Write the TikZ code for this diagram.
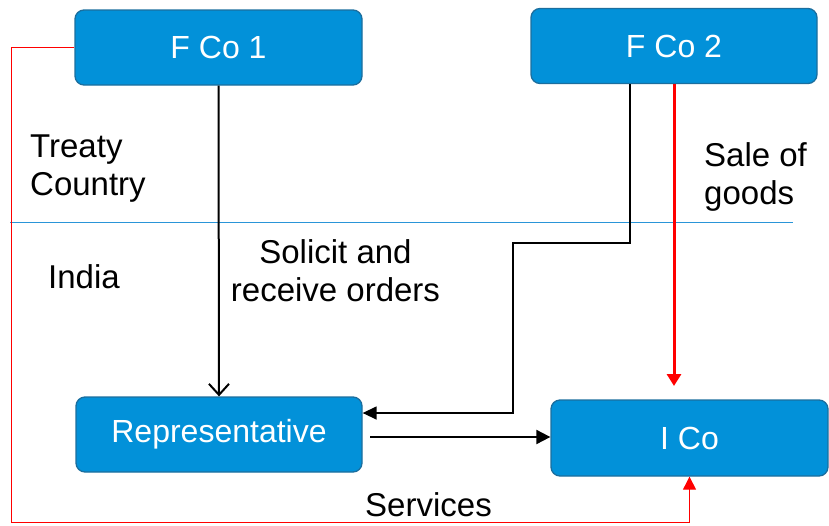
\documentclass[tikz,border=0pt]{standalone}
\usepackage{fontspec}
\setmainfont{Liberation Sans}
\usetikzlibrary{arrows.meta,calc}
\definecolor{boxblue}{HTML}{0291D9}
\definecolor{boxedge}{HTML}{1B6E9E}
\definecolor{lineblue}{HTML}{2A95D8}
\definecolor{redline}{HTML}{FF0000}
\tikzset{
  box/.style={draw=boxedge, line width=1.3pt, fill=boxblue, rounded corners=9pt,
    text=white, font=\fontsize{32}{36}\selectfont, inner sep=0pt, anchor=center},
  lbl/.style={text=black, font=\fontsize{33}{38}\selectfont, inner sep=0pt},
}
\begin{document}
\begin{tikzpicture}[x=1pt,y=-1pt]
\useasboundingbox (0,0) rectangle (829,525);
% boxes
\node[box, minimum width=287pt, minimum height=75pt] (f1) at (218.5,47.5) {F Co 1};
\node[box, minimum width=286pt, minimum height=75pt] (f2) at (674,46) {F Co 2};
\node[box, minimum width=286pt, minimum height=75pt] (rep) at (219,434.5) {Representative};
\node[box, minimum width=277pt, minimum height=76pt] (ico) at (689.5,438) {I Co};
% labels
\node[lbl, align=left, anchor=west] (tc) at (30,169) {Treaty\\Country};
\node[lbl, anchor=west] (ind) at (48,277) {India};
\node[lbl, align=center] (sol) at (335.5,271) {Solicit and\\receive orders};
\node[lbl, align=left, anchor=west] (sog) at (704,177) {Sale of\\goods};
\node[lbl] (serv) at (428.5,505) {Services};
% border line
\coordinate (bl1) at (10,222);
\coordinate (bl2) at (793,222);
\draw[lineblue, line width=1pt] (bl1) -- (bl2);
% red services line
\coordinate (rl) at (11,47.5);
\coordinate (rb) at (11,522.5);
\draw[redline, line width=1pt, -{Triangle[length=13pt,width=13pt]}] (f1.west) -- (rl) -- (rb) -| (ico.south);
% solicit arrow
\draw[black, line width=2pt, -{Straight Barb[length=11pt,width=20pt,line width=2pt]}] (f1.south) -- (rep.north);
% F Co 2 black path
\coordinate (k0) at (630,84);
\coordinate (k1) at (630,243);
\coordinate (k2) at (513,243);
\coordinate (k3) at (513,413);
\draw[black, line width=1.4pt, -{Triangle[length=14pt,width=13pt]}] (k0) -- (k1) -- (k2) -- (k3) -- (k3 -| rep.east);
% sale of goods red arrow
\coordinate (rt) at (674,386);
\draw[redline, line width=3pt, -{Triangle[length=12pt,width=14pt]}] (f2.south) -- (rt);
% rep to ico
\coordinate (ro) at (370,437);
\draw[black, line width=2pt, -{Triangle[length=14pt,width=14pt]}] (ro) -- (ro -| ico.west);
\end{tikzpicture}
\end{document}
